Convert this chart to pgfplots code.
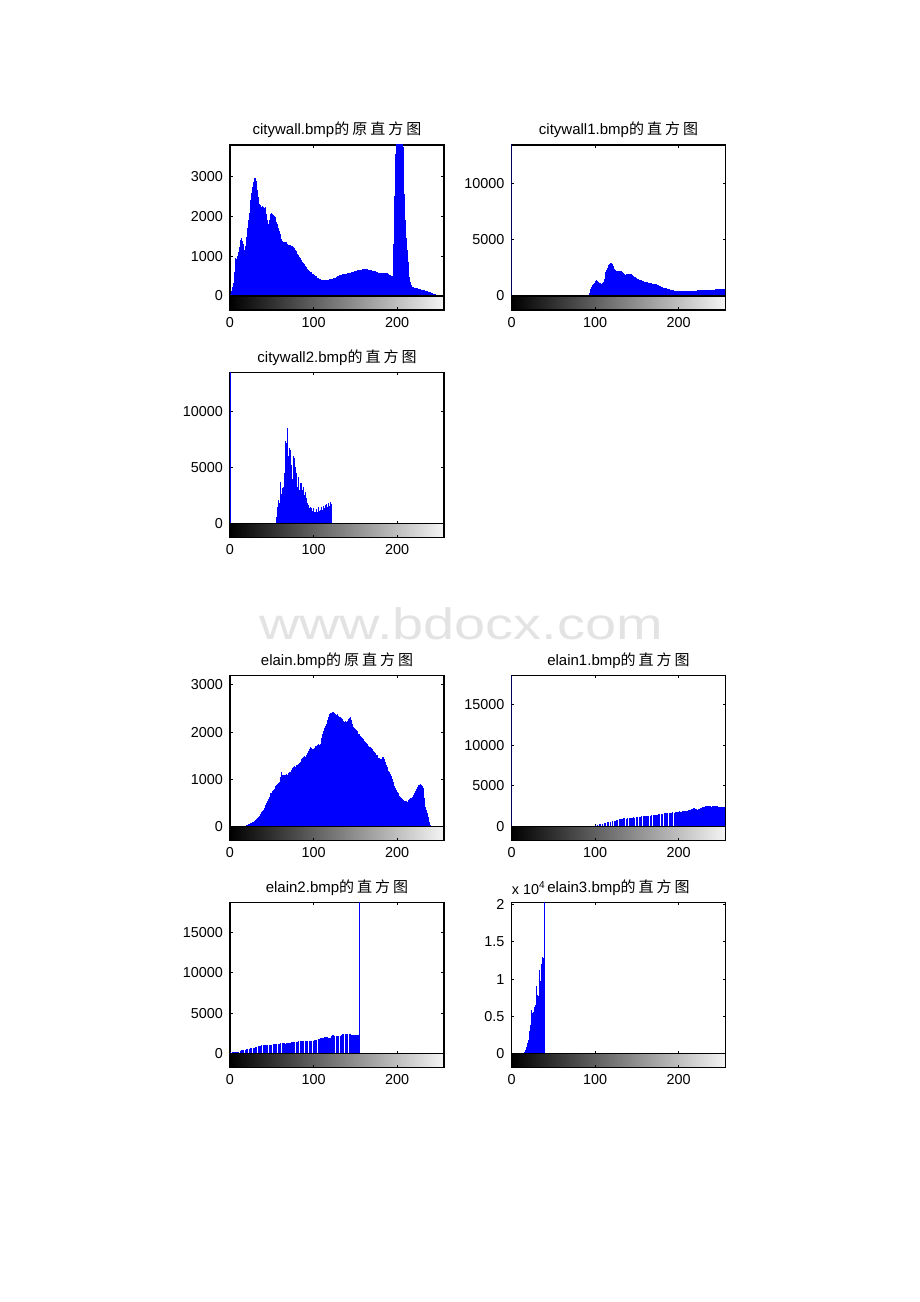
\documentclass[border=0pt]{standalone}
\usepackage{fontspec}
\setmainfont{Liberation Sans}
\newfontfamily\cjk{Noto Sans CJK SC}
\usepackage{pgfplots}
\pgfplotsset{compat=1.18}
\newcommand\zs{\hspace{0.2em}}
\newcommand\yuan{{\cjk 的\zs{}原\zs{}直\zs{}方\zs{}图}}
\newcommand\zhi{{\cjk 的\zs{}直\zs{}方\zs{}图}}
\pgfplotsset{
 hist/.style={scale only axis, width=107pt, height=75.5pt, xmin=0, xmax=256, ymin=0,
   axis line style={line width=0.8pt}, every tick/.style={black, line width=0.5pt},
   major tick length=1.3pt, tick align=inside, xtick={0,100,200}, xticklabels={},
   xtick pos=both, ytick pos=both, yticklabel pos=left,
   tick label style={font=\fontsize{7.2}{8}\selectfont},
   /pgf/number format/assume math mode=true, /pgf/number format/1000 sep={},
   scaled y ticks=false},
 cbar/.style={scale only axis, width=107pt, height=7pt, xmin=0, xmax=256, ymin=0, ymax=1,
   ytick=\empty, xtick={0,100,200}, tick align=inside, xtick pos=left, axis on top,
   axis line style={line width=0.8pt}, every tick/.style={black, line width=0.5pt},
   major tick length=1.3pt, tick label style={font=\fontsize{7.2}{8}\selectfont},
   /pgf/number format/assume math mode=true},
 stem/.style={ycomb, blue, line width=0.5pt, mark=none},
 base/.style={blue, line width=0.5pt, mark=none},
 grad/.style={draw=none, left color=black, right color=white!96!black, mark=none},
}
\tikzset{ttl/.style={anchor=base, yshift=5pt, inner sep=0pt, font=\fontsize{7.5}{9}\selectfont}}
\begin{document}
\begin{tikzpicture}
\useasboundingbox (0,0) rectangle (460pt,651pt);
\node[anchor=base, text=black!11, font=\fontsize{22}{22}\selectfont, xscale=1.27, inner sep=0pt] at (230.5pt,331pt) {www.bdocx.com};

% ---------- Panel 1: citywall ----------
\begin{axis}[hist, name=p1, at={(115pt,503pt)}, anchor=south west, ymax=3780, ytick={0,1000,2000,3000}]
\addplot[stem] coordinates {
(0,20)(1,60)(2,120)(3,220)(4,320)(5,600)(6,880)(7,950)(8,920)(9,1000)(10,1100)(11,1230)(12,1350)(13,1400)(14,1440)(15,1380)
(16,1300)(17,1150)(18,1060)(19,1250)(20,1480)(21,1700)(22,1900)(23,2080)(24,2250)(25,2400)(26,2580)(27,2730)(28,2850)(29,2950)(30,2900)(31,2950)
(32,2870)(33,2650)(34,2480)(35,2300)(36,2270)(37,2250)(38,2230)(39,2260)(40,2230)(41,2200)(42,2230)(43,2190)(44,2050)(45,1900)(46,1810)(47,1900)
(48,1980)(49,2040)(50,2070)(51,2060)(52,2020)(53,2000)(54,1980)(55,1900)(56,1850)(57,1810)(58,1700)(59,1620)(60,1560)(61,1480)(62,1420)(63,1380)
(64,1350)(65,1340)(66,1360)(67,1330)(68,1350)(69,1300)(70,1280)(71,1270)(72,1270)(73,1260)(74,1250)(75,1240)(76,1230)(77,1190)(78,1150)(79,1120)
(80,1100)(81,1060)(82,1020)(83,980)(84,940)(85,900)(86,870)(87,840)(88,815)(89,790)(90,750)(91,720)(92,690)(93,670)(94,650)(95,620)
(96,605)(97,590)(98,570)(99,560)(100,550)(101,530)(102,510)(103,495)(104,480)(105,460)(106,440)(107,425)(108,415)(109,405)(110,400)(111,410)
(112,400)(113,395)(114,405)(115,400)(116,400)(117,410)(118,405)(119,420)(120,415)(121,425)(122,430)(123,435)(124,440)(125,455)(126,460)(127,470)
(128,480)(129,495)(130,505)(131,515)(132,525)(133,530)(134,540)(135,545)(136,550)(137,555)(138,560)(139,560)(140,565)(141,570)(142,575)(143,580)
(144,580)(145,590)(146,600)(147,600)(148,605)(149,615)(150,620)(151,625)(152,630)(153,640)(154,645)(155,650)(156,650)(157,660)(158,665)(159,670)
(160,675)(161,680)(162,670)(163,665)(164,665)(165,660)(166,655)(167,650)(168,650)(169,640)(170,635)(171,630)(172,630)(173,620)(174,615)(175,610)
(176,605)(177,590)(178,580)(179,570)(180,565)(181,570)(182,575)(183,580)(184,580)(185,575)(186,570)(187,565)(188,565)(189,555)(190,545)(191,535)
(192,525)(193,510)(194,490)(195,560)(196,1300)(197,2500)(198,3560)(199,3800)(200,3900)(201,3950)(202,3900)(203,3950)(204,3900)(205,3850)(206,3800)(207,3720)
(208,3200)(209,2560)(210,1900)(211,1450)(212,1150)(213,850)(214,620)(215,480)(216,360)(217,280)(218,230)(219,220)(220,210)(221,205)(222,200)(223,195)
(224,190)(225,185)(226,180)(227,175)(228,165)(229,160)(230,155)(231,150)(232,150)(233,140)(234,130)(235,125)(236,118)(237,112)(238,108)(239,100)
(240,90)(241,80)(242,70)(243,60)(244,50)(245,45)(246,40)(247,35)(248,30)(249,28)(250,25)(251,22)(252,20)(253,15)(254,10)(255,5)};
\end{axis}
\begin{axis}[cbar, at={(115pt,496pt)}, anchor=south west]
\addplot[grad] coordinates {(0,1)(256,1)} \closedcycle;
\end{axis}
\node[ttl] at (p1.north) {citywall.bmp\yuan};

% ---------- Panel 2: citywall1 ----------
\begin{axis}[hist, name=p2, at={(255.75pt,503pt)}, anchor=south west, ymax=13450, ytick={0,5000,10000}]
\addplot[base] coordinates {(0,0)(256,0)};
\addplot[stem] coordinates {
(0,30000)(92,100)(93,300)(94,500)(95,650)(96,800)(97,950)(98,1100)(99,1200)(100,1300)(101,1350)(102,1400)(103,1320)(104,1250)(105,1200)(106,1150)
(107,1100)(108,1100)(109,1180)(110,1250)(111,1550)(112,1850)(113,2100)(114,2290)(115,2500)(116,2740)(117,2850)(118,2950)(119,2980)(120,2930)(121,2890)
(122,2650)(123,2440)(124,2300)(125,2250)(126,2230)(127,2240)(128,2220)(129,2230)(130,2230)(131,2200)(132,2150)(133,2100)(134,2080)(135,1950)(136,1850)
(137,1900)(138,1930)(139,1980)(140,2000)(141,1990)(142,1990)(143,1950)(144,1900)(145,1850)(146,1790)(147,1720)(148,1650)(149,1600)(150,1550)(151,1500)
(152,1470)(153,1430)(154,1400)(155,1380)(156,1350)(157,1330)(158,1310)(159,1290)(160,1270)(161,1260)(162,1250)(163,1230)(164,1200)(165,1180)(166,1160)
(167,1140)(168,1130)(169,1110)(170,1100)(171,1080)(172,1050)(173,1030)(174,1010)(175,980)(176,940)(177,900)(178,860)(179,830)(180,800)(181,770)
(182,740)(183,720)(184,700)(185,670)(186,650)(187,630)(188,600)(189,580)(190,565)(191,550)(192,530)(193,510)(194,500)(195,480)(196,460)
(197,450)(198,440)(199,430)(200,420)(201,410)(202,420)(203,430)(204,415)(205,420)(206,425)(207,410)(208,420)(209,430)(210,420)(211,425)
(212,435)(213,430)(214,440)(215,445)(216,440)(217,450)(218,450)(219,460)(220,470)(221,475)(222,480)(223,490)(224,495)(225,500)(226,500)
(227,510)(228,520)(229,530)(230,540)(231,545)(232,550)(233,560)(234,565)(235,560)(236,570)(237,565)(238,570)(239,575)(240,570)(241,565)
(242,565)(243,575)(244,580)(245,585)(246,590)(247,595)(248,600)(249,600)(250,600)(251,610)(252,600)(253,605)(254,600)(255,600)};
\end{axis}
\begin{axis}[cbar, at={(255.75pt,496pt)}, anchor=south west]
\addplot[grad] coordinates {(0,1)(256,1)} \closedcycle;
\end{axis}
\node[ttl] at (p2.north) {citywall1.bmp\zhi};

% ---------- Panel 3: citywall2 ----------
\begin{axis}[hist, name=p3, at={(115pt,389.25pt)}, anchor=south west, ymax=13470, ytick={0,5000,10000}]
\addplot[base] coordinates {(0,0)(256,0)};
\addplot[stem] coordinates {
(0,30000)(56,600)(57,1500)(58,2100)(59,1800)(60,2200)(61,3740)(62,2600)(63,3140)(64,3300)(65,4490)(66,7330)(67,5500)(68,7190)(69,8530)(70,6000)
(71,6740)(72,6590)(73,5200)(74,4940)(75,4000)(76,5990)(77,5840)(78,5000)(79,4490)(80,3590)(81,3300)(82,4190)(83,3000)(84,3590)(85,2900)
(86,3590)(87,3000)(88,3290)(89,2500)(90,2840)(91,2200)(92,2250)(93,1800)(94,1650)(95,1400)(96,1500)(97,1200)(98,1350)(99,1100)(100,1350)
(101,1000)(102,1050)(103,900)(104,1260)(105,1000)(106,1500)(107,1100)(108,1200)(109,1300)(110,1500)(111,1200)(112,1560)(113,1400)(114,1650)
(115,1300)(116,1740)(117,1500)(118,1800)(119,1600)(120,1950)(121,1700)(122,1200)};
\end{axis}
\begin{axis}[cbar, at={(115pt,382.25pt)}, anchor=south west]
\addplot[grad] coordinates {(0,1)(256,1)} \closedcycle;
\end{axis}
\node[ttl] at (p3.north) {citywall2.bmp\zhi};

% ---------- Panel 4: elain ----------
\begin{axis}[hist, name=p4, at={(115pt,237.75pt)}, anchor=south west, ymax=3200, ytick={0,1000,2000,3000}]
\addplot[stem] coordinates {
(18,10)(19,20)(20,35)(21,40)(22,45)(23,50)(24,55)(25,65)(26,80)(27,95)(28,105)(29,120)(30,130)(31,145)(32,155)(33,180)
(34,200)(35,225)(36,245)(37,270)(38,300)(39,325)(40,350)(41,385)(42,420)(43,455)(44,490)(45,530)(46,580)(47,620)(48,665)(49,700)
(50,720)(51,750)(52,770)(53,800)(54,830)(55,850)(56,875)(57,900)(58,930)(59,950)(60,980)(61,1050)(62,1150)(63,1100)(64,1085)(65,1100)
(66,1090)(67,1110)(68,1120)(69,1100)(70,1130)(71,1150)(72,1155)(73,1180)(74,1200)(75,1230)(76,1260)(77,1290)(78,1270)(79,1300)(80,1295)(81,1310)
(82,1330)(83,1350)(84,1365)(85,1400)(86,1420)(87,1450)(88,1470)(89,1490)(90,1480)(91,1500)(92,1505)(93,1550)(94,1600)(95,1650)(96,1690)(97,1660)
(98,1650)(99,1640)(100,1645)(101,1670)(102,1700)(103,1710)(104,1715)(105,1720)(106,1740)(107,1730)(108,1750)(109,1800)(110,1880)(111,1950)(112,2030)(113,2080)
(114,2120)(115,2150)(116,2170)(117,2250)(118,2320)(119,2380)(120,2410)(121,2400)(122,2390)(123,2420)(124,2435)(125,2400)(126,2380)(127,2360)(128,2380)(129,2350)
(130,2340)(131,2330)(132,2320)(133,2300)(134,2280)(135,2260)(136,2240)(137,2220)(138,2230)(139,2210)(140,2200)(141,2230)(142,2280)(143,2300)(144,2310)(145,2250)
(146,2180)(147,2130)(148,2100)(149,2080)(150,2060)(151,2040)(152,2030)(153,2000)(154,1970)(155,1950)(156,1920)(157,1900)(158,1880)(159,1860)(160,1850)(161,1820)
(162,1790)(163,1770)(164,1750)(165,1730)(166,1710)(167,1690)(168,1680)(169,1660)(170,1640)(171,1620)(172,1610)(173,1580)(174,1550)(175,1520)(176,1505)(177,1480)
(178,1460)(179,1450)(180,1435)(181,1440)(182,1460)(183,1470)(184,1470)(185,1420)(186,1360)(187,1300)(188,1260)(189,1220)(190,1180)(191,1150)(192,1120)(193,1060)
(194,1000)(195,950)(196,910)(197,860)(198,820)(199,780)(200,735)(201,710)(202,680)(203,650)(204,630)(205,610)(206,590)(207,570)(208,560)(209,550)
(210,540)(211,530)(212,525)(213,540)(214,560)(215,580)(216,595)(217,610)(218,630)(219,650)(220,665)(221,700)(222,750)(223,800)(224,840)(225,860)
(226,870)(227,880)(228,895)(229,880)(230,850)(231,810)(232,770)(233,600)(234,420)(235,350)(236,280)(237,200)(238,140)(239,90)(240,35)(241,10)};
\end{axis}
\begin{axis}[cbar, at={(115pt,230.75pt)}, anchor=south west]
\addplot[grad] coordinates {(0,1)(256,1)} \closedcycle;
\end{axis}
\node[ttl] at (p4.north) {elain.bmp\yuan};

% ---------- Panel 5: elain1 ----------
\begin{axis}[hist, name=p5, at={(255.75pt,237.75pt)}, anchor=south west, ymax=18560, ytick={0,5000,10000,15000}]
\addplot[base] coordinates {(0,0)(256,0)};
\addplot[stem] coordinates {
(0,30000)(40,30)(50,40)(60,50)(70,60)(80,70)(90,80)(98,100)(101,150)(103,200)(105,250)(107,290)(109,350)(111,410)(113,470)(115,530)(116,560)
(118,600)(119,610)(121,650)(123,700)(124,720)(126,780)(127,820)(129,870)(130,900)(131,940)(133,980)(134,1000)(135,1020)(137,960)(138,940)
(139,1000)(141,1050)(142,1080)(143,1100)(145,1100)(146,1120)(147,1100)(149,1130)(150,1140)(151,1140)(153,1180)(154,1200)(155,1230)(156,1200)
(158,1230)(159,1230)(160,1280)(162,1300)(163,1350)(164,1320)(166,1350)(167,1350)(168,1380)(170,1400)(171,1430)(172,1420)(173,1450)(175,1470)
(176,1480)(177,1500)(179,1510)(180,1550)(181,1580)(183,1630)(184,1600)(185,1620)(186,1650)(187,1630)(189,1680)(190,1700)(191,1720)(192,1700)
(193,1750)(195,1720)(196,1780)(197,1800)(199,1840)(200,1820)(201,1850)(202,1830)(203,1840)(205,1870)(206,1850)(207,1880)(208,1900)(209,1920)
(211,1960)(212,2000)(213,2050)(214,2080)(215,2120)(216,2150)(217,2200)(218,2230)(219,2250)(220,2150)(221,2100)(222,2050)(223,2040)(224,2150)
(225,2200)(226,2250)(227,2250)(228,2300)(229,2350)(230,2400)(231,2450)(232,2480)(233,2500)(234,2520)(235,2530)(236,2500)(237,2480)(238,2460)
(239,2450)(240,2480)(241,2500)(242,2520)(243,2530)(244,2500)(245,2480)(246,2460)(247,2450)(248,2430)(249,2420)(250,2400)(251,2390)(252,2380)
(253,2370)(254,2370)(255,2370)};
\end{axis}
\begin{axis}[cbar, at={(255.75pt,230.75pt)}, anchor=south west]
\addplot[grad] coordinates {(0,1)(256,1)} \closedcycle;
\end{axis}
\node[ttl] at (p5.north) {elain1.bmp\zhi};

% ---------- Panel 6: elain2 ----------
\begin{axis}[hist, name=p6, at={(115pt,124.25pt)}, anchor=south west, ymax=18750, ytick={0,5000,10000,15000}]
\addplot[base] coordinates {(0,0)(256,0)};
\addplot[stem] coordinates {
(1,200)(3,210)(4,200)(5,220)(7,210)(8,200)(9,220)(10,200)(12,210)(13,350)(14,380)(15,400)(16,420)(18,460)(19,480)(20,500)
(21,520)(23,600)(24,625)(25,640)(26,660)(28,710)(29,740)(30,780)(31,800)(32,830)(34,900)(35,930)(36,960)(37,980)(38,1000)
(40,1040)(41,1030)(42,1040)(43,1050)(44,1040)(45,1030)(47,1040)(48,1040)(49,1050)(50,1060)(52,1170)(53,1160)(54,1180)(55,1150)(56,1170)
(58,1200)(59,1220)(60,1250)(61,1240)(63,1250)(64,1250)(65,1260)(66,1240)(68,1250)(69,1270)(70,1300)(71,1320)(72,1330)(74,1380)(75,1400)
(76,1420)(77,1400)(79,1450)(80,1460)(81,1470)(82,1490)(84,1500)(85,1520)(86,1540)(87,1520)(88,1540)(90,1560)(91,1580)(92,1580)(93,1570)
(95,1580)(96,1580)(97,1590)(98,1600)(100,1580)(101,1620)(102,1650)(103,1660)(104,1670)(106,1800)(107,1850)(108,1875)(109,1900)(111,1950)
(112,1960)(113,2000)(114,2050)(115,2080)(117,2080)(118,1950)(119,1900)(120,1875)(122,2150)(123,2250)(124,2290)(125,2200)(127,2150)(128,2170)
(129,2200)(130,2210)(132,2210)(133,2300)(134,2380)(135,2400)(136,2420)(138,2400)(139,2380)(140,2375)(141,2400)(143,2420)(144,2420)(145,2350)
(146,2300)(148,2290)(149,2300)(150,2280)(151,2290)(152,2290)(153,2300)(154,2290)(155,30000)};
\end{axis}
\begin{axis}[cbar, at={(115pt,117.25pt)}, anchor=south west]
\addplot[grad] coordinates {(0,1)(256,1)} \closedcycle;
\end{axis}
\node[ttl] at (p6.north) {elain2.bmp\zhi};

% ---------- Panel 7: elain3 ----------
\begin{axis}[hist, name=p7, at={(255.75pt,124.25pt)}, anchor=south west, ymax=20300,
  ytick={0,5000,10000,15000,20000}, yticklabels={0,0.5,1,1.5,2}]
\addplot[base] coordinates {(0,0)(256,0)};
\addplot[stem] coordinates {
(16,200)(17,450)(18,900)(19,1350)(20,1800)(21,2260)(22,3000)(23,3840)(24,5870)(25,5420)(26,5600)(27,6100)(28,6300)(29,6550)
(30,9030)(31,7900)(32,7700)(33,8130)(34,11290)(35,9710)(36,12000)(37,13000)(38,12870)(39,11520)(40,30000)};
\end{axis}
\begin{axis}[cbar, at={(255.75pt,117.25pt)}, anchor=south west]
\addplot[grad] coordinates {(0,1)(256,1)} \closedcycle;
\end{axis}
\node[ttl] at (p7.north) {elain3.bmp\zhi};
\node[anchor=base west, inner sep=0pt, font=\fontsize{7.2}{8}\selectfont, yshift=4.2pt] at (p7.north west) {x 10\textsuperscript{4}};
\end{tikzpicture}
\end{document}
